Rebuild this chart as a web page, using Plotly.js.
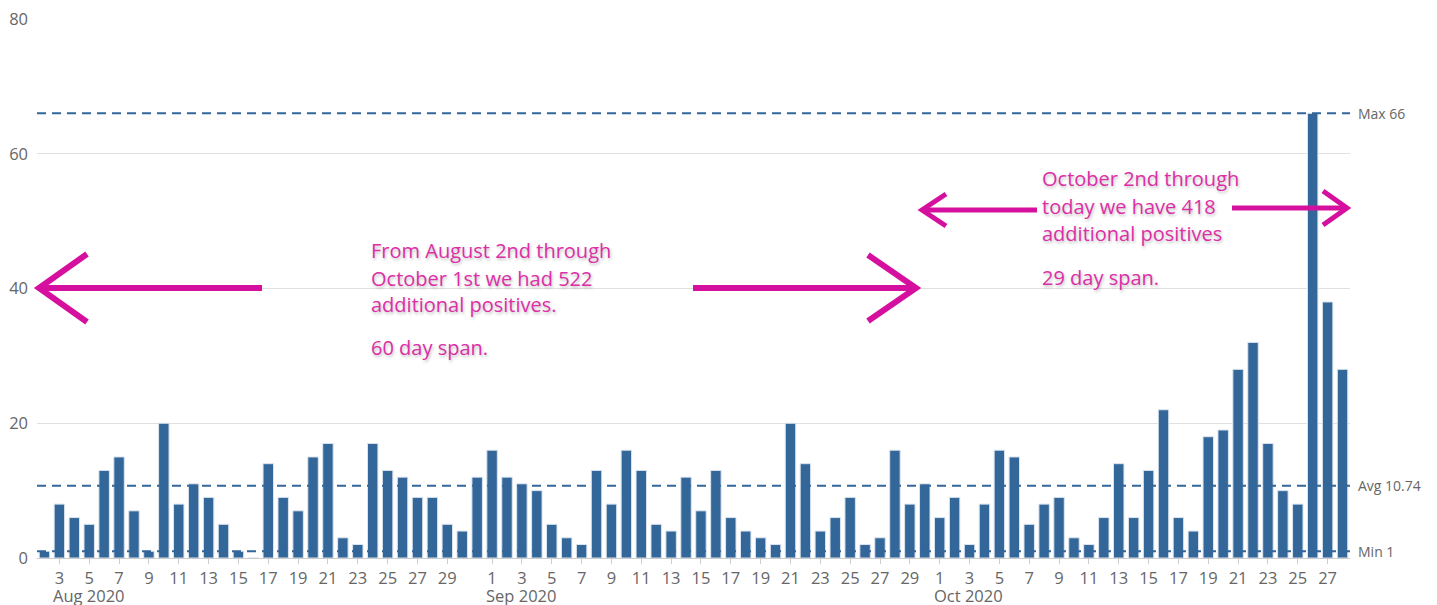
<!DOCTYPE html>
<html>
<head>
<meta charset="utf-8">
<script src="https://cdn.plot.ly/plotly-3.0.1.min.js"></script>
<style>html,body{margin:0;padding:0;background:#fff;}#chart{width:1437px;height:605px;}</style>
</head>
<body>
<div id="chart"></div>
<script>
// ---- data ----
const startDate = '2020-08-02';
const augValues = [1,8,6,5,13,15,7,1,20,8,11,9,5,1,0,14,9,7,15,17,3,2,17,13,12,9,9,5,4,12]; // Aug 2 - Aug 31
const sepValues = [16,12,11,10,5,3,2,13,8,16,13,5,4,12,7,13,6,4,3,2,20,14,4,6,9,2,3,16,8,11]; // Sep 1 - Sep 30
const octValues = [6,9,2,8,16,15,5,8,9,3,2,6,14,6,13,22,6,4,18,19,28,32,17,10,8,66,38,28]; // Oct 1 - Oct 28

const refValues = [66, 10.74, 1];
const refLabels = ['Max 66', 'Avg 10.74', 'Min 1'];

const augTickDays = [3,5,7,9,11,13,15,17,19,21,23,25,27,29];
const sepTickDays = [1,3,5,7,9,11,13,15,17,19,21,23,25,27,29];
const octTickDays = [1,3,5,7,9,11,13,15,17,19,21,23,25,27];
const monthLabels = ['Aug 2020', 'Sep 2020', 'Oct 2020'];
const monthKeys = ['2020-08', '2020-09', '2020-10'];

const yTickVals = [0, 20, 40, 60, 80];

const note1Lines = ['From August 2nd through', 'October 1st we had 522', 'additional positives.', '60 day span.'];
const note2Lines = ['October 2nd through', 'today we have 418', 'additional positives', '29 day span.'];

// ---- build ----
const values = augValues.concat(sepValues, octValues);
const dates = [];
{
  const d0 = new Date(startDate + 'T00:00:00Z');
  for (let i = 0; i < values.length; i++) {
    const d = new Date(d0.getTime() + i * 86400000);
    dates.push(d.toISOString().slice(0, 10));
  }
}
const pad2 = n => (n < 10 ? '0' : '') + n;
const tickVals = [], tickText = [];
[augTickDays, sepTickDays, octTickDays].forEach((days, mi) => {
  days.forEach(day => { tickVals.push(monthKeys[mi] + '-' + pad2(day)); tickText.push(String(day)); });
});

const W = 1437, H = 605;
const M = {l: 37, r: 87, t: 19, b: 47};
const PW = W - M.l - M.r, PH = H - M.t - M.b;
const px = x => (x - M.l) / PW;
const py = y => (H - M.b - y) / PH;

const blue = '#336699';
const magenta = '#d6109e';
const textMag = '#dc2fa6';
const grey = '#666666';

const shapes = [];
refValues.forEach(v => {
  shapes.push({type: 'line', xref: 'paper', yref: 'y', x0: 0, x1: 1, y0: v, y1: v,
    line: {color: blue, width: 2, dash: '9px,6px'}, layer: 'above'});
});

function arrow(tipX, tipY, endX, armX, armDy, width) {
  shapes.push({type: 'path', xref: 'paper', yref: 'paper',
    path: `M ${px(endX)} ${py(tipY)} L ${px(tipX)} ${py(tipY)}`,
    line: {color: magenta, width: width}, layer: 'above'});
  shapes.push({type: 'path', xref: 'paper', yref: 'paper',
    path: `M ${px(armX)} ${py(tipY - armDy)} L ${px(tipX)} ${py(tipY)} L ${px(armX)} ${py(tipY + armDy)}`,
    line: {color: magenta, width: width}, layer: 'above'});
}
arrow(39, 288, 262, 87, 34, 6);
arrow(916, 288, 693, 868, 33, 6);
arrow(922, 210, 1037, 946, 16, 5);
arrow(1347, 208, 1232, 1323, 17, 5);

const annotations = [];
refValues.forEach((v, i) => {
  annotations.push({xref: 'paper', yref: 'y', x: 1, y: v, xanchor: 'left', yanchor: 'middle',
    xshift: 6, text: refLabels[i], showarrow: false,
    font: {family: 'Open Sans', size: 14, color: grey}});
});
monthKeys.forEach((k, i) => {
  const firstDay = [augTickDays, sepTickDays, octTickDays][i][0];
  annotations.push({xref: 'x', yref: 'paper', x: k + '-' + pad2(firstDay), y: py(595),
    xanchor: 'left', yanchor: 'middle', xshift: -8, text: monthLabels[i], showarrow: false,
    font: {family: 'Open Sans', size: 16.5, color: grey}});
});
const shadow = 'rgba(0,0,0,0.25) 1px 2px 3px';
function note(lines, x, ys) {
  lines.forEach((t, i) => {
    annotations.push({xref: 'paper', yref: 'paper', x: px(x), y: py(ys[i]), xanchor: 'left',
      yanchor: 'middle', text: t, showarrow: false,
      font: {family: 'Open Sans', size: 20, color: textMag, shadow: shadow}});
  });
}
note(note1Lines, 369, [251, 278, 304, 347]);
note(note2Lines, 1040, [179, 207, 233, 277]);

const trace = {
  type: 'bar', x: dates, y: values,
  marker: {color: blue, line: {color: '#dbe4ee', width: 1}},
  hoverinfo: 'x+y'
};

const layout = {
  width: W, height: H,
  margin: M,
  paper_bgcolor: '#ffffff', plot_bgcolor: '#ffffff',
  showlegend: false,
  bargap: 0.3,
  font: {family: 'Open Sans', color: grey},
  xaxis: {
    type: 'date', range: ['2020-08-01 12:00', '2020-10-28 12:00'],
    tickvals: tickVals, ticktext: tickText,
    ticks: 'outside', ticklen: 5, tickcolor: '#cccccc', tickwidth: 1,
    showgrid: false, showline: true, linecolor: '#cccccc', linewidth: 1,
    tickfont: {family: 'Open Sans', size: 16.5, color: grey},
    zeroline: false, fixedrange: true
  },
  yaxis: {
    range: [0, 80], tickvals: yTickVals, ticks: '',
    showgrid: true, gridcolor: '#e0e0e0', gridwidth: 1,
    zeroline: false, showline: false,
    tickfont: {family: 'Open Sans', size: 16.5, color: grey},
    ticklabelstandoff: 8, fixedrange: true
  },
  shapes: shapes,
  annotations: annotations
};

Plotly.newPlot('chart', [trace], layout, {staticPlot: true, displayModeBar: false});
</script>
</body>
</html>
